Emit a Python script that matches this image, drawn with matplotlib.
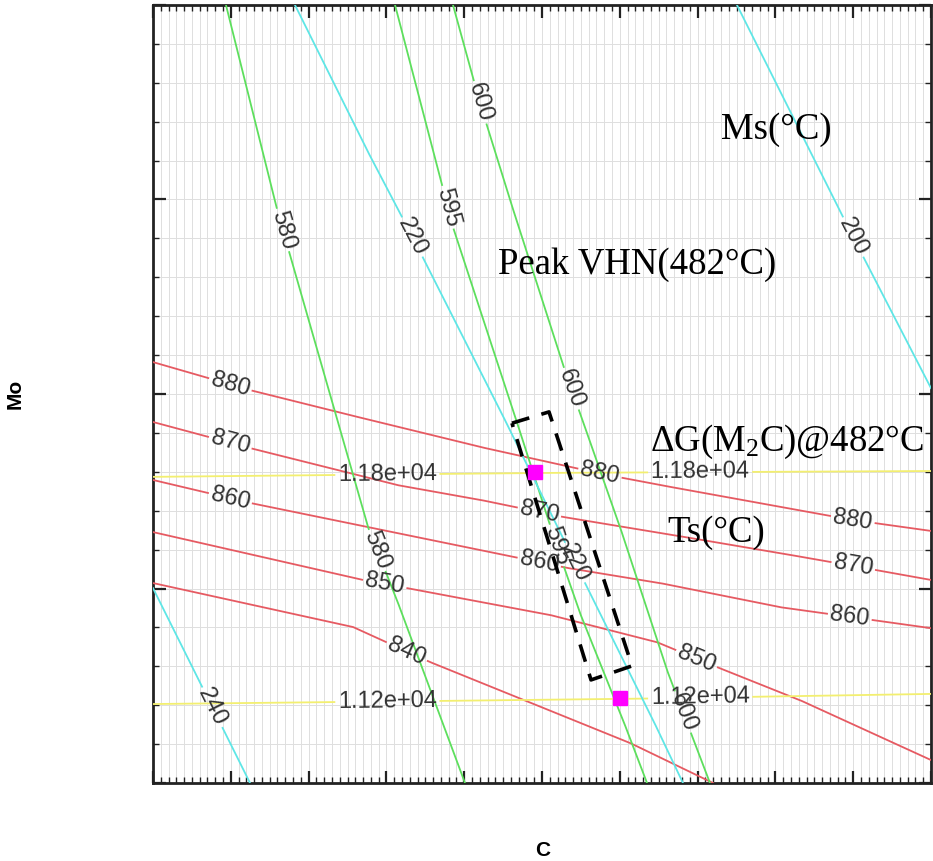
import numpy as np
import matplotlib
matplotlib.use('Agg')
import matplotlib.pyplot as plt

plt.rcParams['mathtext.fontset'] = 'custom'
plt.rcParams['mathtext.rm'] = 'Liberation Serif'
plt.rcParams['mathtext.it'] = 'Liberation Serif:italic'

# contour levels
vhn_levels = [580, 595, 600]
ms_levels = [240, 220, 200]
ts_levels = [840, 850, 860, 870, 880]
dg_levels = [11200, 11800]

# Peak VHN(482C) lines (C, Mo)
vhn_580_c = [0.938, 1.607, 2.339, 2.763, 3.136, 4.010]
vhn_580_mo = [20.0, 14.65, 9.54, 6.58, 4.70, 0.0]
vhn_595_c = [3.111, 3.599, 3.856, 4.627, 5.193, 5.488, 6.041, 6.350]
vhn_595_mo = [20.0, 16.27, 14.29, 9.59, 6.07, 4.37, 1.62, 0.0]
vhn_600_c = [3.856, 4.203, 4.589, 5.321, 5.488, 6.003, 6.607, 7.159]
vhn_600_mo = [20.0, 17.48, 14.99, 10.44, 9.51, 6.58, 2.90, 0.0]

# Ms lines
ms_240_c = [0.0, 1.247]
ms_240_mo = [5.01, 0.0]
ms_220_c = [1.825, 2.751, 3.342, 4.460, 4.884, 5.617, 6.427, 6.812]
ms_220_mo = [20.0, 16.27, 14.01, 9.59, 7.87, 4.88, 1.62, 0.0]
ms_200_c = [7.506, 8.997, 10.0]
ms_200_mo = [20.0, 14.04, 10.15]

# Ts lines
ts_880_c = [0.0, 1.247, 2.365, 4.203, 5.784, 6.517, 8.997, 10.0]
ts_880_mo = [10.82, 10.10, 9.54, 8.64, 7.94, 7.66, 6.76, 6.48]
ts_870_c = [0.0, 1.247, 3.136, 4.203, 5.270, 6.517, 8.059, 8.997, 10.0]
ts_870_mo = [9.28, 8.61, 7.66, 7.28, 6.84, 6.43, 5.91, 5.58, 5.22]
ts_860_c = [0.0, 1.247, 4.203, 5.321, 6.517, 8.059, 8.959, 10.0]
ts_860_mo = [7.79, 7.20, 5.99, 5.53, 5.14, 4.52, 4.27, 3.98]
ts_850_c = [0.0, 2.699, 3.265, 5.103, 6.478, 7.249, 8.316, 10.0]
ts_850_mo = [6.45, 5.22, 5.01, 4.32, 3.62, 2.98, 2.13, 0.59]
ts_840_c = [0.0, 2.571, 3.560, 6.131, 7.198]
ts_840_mo = [5.14, 4.01, 3.11, 1.03, 0.0]

# dG(M2C) lines
dg_118_c = [0.0, 4.910, 10.0]
dg_118_mo = [7.87, 7.97, 8.02]
dg_112_c = [0.0, 6.003, 10.0]
dg_112_mo = [2.03, 2.16, 2.29]

# design points and search window
design_c = [4.910, 6.003]
design_mo = [7.99, 2.19]
box_c = [4.614, 5.090, 6.157, 5.630, 4.614]
box_mo = [9.25, 9.54, 3.01, 2.65, 9.25]

green = '#5ddf5d'
cyan = '#5fe6e6'
red = '#e65a62'
yellow = '#f3ef70'

fig = plt.figure(figsize=(9.33, 8.61), dpi=100)
ax = fig.add_axes([153 / 933, 78 / 861, 778 / 933, 778 / 861])
ax.set_xlim(0, 10)
ax.set_ylim(0, 20)
ax.set_xticks(np.arange(0, 10.01, 1))
ax.set_xticks(np.arange(0, 10.01, 0.1), minor=True)
ax.set_yticks(np.arange(0, 20.01, 5))
ax.set_yticks(np.arange(0, 20.01, 1), minor=True)
ax.tick_params(which='both', direction='in', top=True, right=True,
               labelbottom=False, labelleft=False, color='#222222')
ax.tick_params(which='major', length=9, width=1.6)
ax.tick_params(which='minor', length=4, width=1.0)
ax.grid(True, which='both', color='#dedede', lw=0.7)
ax.set_axisbelow(True)
for sp in ax.spines.values():
    sp.set_linewidth(2)
    sp.set_color('#222222')

renderer = fig.canvas.get_renderer()


def fmt_level(v):
    if v >= 10000:
        return f'{v:.2e}'
    return f'{v:d}'


def contour_line(xs, ys, color, level, spots):
    pts = ax.transData.transform(np.column_stack([xs, ys]))
    seg = np.hypot(*np.diff(pts, axis=0).T)
    s = np.concatenate([[0], np.cumsum(seg)])
    sd = np.linspace(0, s[-1], int(s[-1]) * 2 + 2)
    px = np.interp(sd, s, pts[:, 0])
    py = np.interp(sd, s, pts[:, 1])
    keep = np.ones(len(sd), bool)
    for lx, ly in spots:
        tx, ty = ax.transData.transform((lx, ly))
        i = np.argmin(np.hypot(px - tx, py - ty))
        j0, j1 = max(i - 12, 0), min(i + 12, len(sd) - 1)
        ang = np.degrees(np.arctan2(py[j1] - py[j0], px[j1] - px[j0]))
        if ang > 90:
            ang -= 180
        if ang <= -90:
            ang += 180
        cx, cy = ax.transData.inverted().transform((px[i], py[i]))
        t = ax.text(cx, cy, fmt_level(level), fontsize=17, color='#333333',
                    family='Liberation Sans', ha='center', va='center',
                    rotation_mode='anchor', zorder=5)
        w = t.get_window_extent(renderer).width
        t.set_rotation(ang)
        keep &= np.abs(sd - sd[i]) > w / 2 + 3
    lx, ly = ax.transData.inverted().transform(np.column_stack([px, py])).T
    lx[~keep] = np.nan
    ax.plot(lx, ly, color=color, lw=1.3, zorder=3)


contour_line(ts_880_c, ts_880_mo, red, ts_levels[4], [(0.99, 10.2), (5.75, 8.0), (9.0, 6.8)])
contour_line(ts_870_c, ts_870_mo, red, ts_levels[3], [(0.99, 8.7), (4.97, 7.0), (9.0, 5.6)])
contour_line(ts_860_c, ts_860_mo, red, ts_levels[2], [(0.99, 7.3), (4.97, 5.7), (8.96, 4.3)])
contour_line(ts_850_c, ts_850_mo, red, ts_levels[1], [(2.98, 5.1), (6.99, 3.2)])
contour_line(ts_840_c, ts_840_mo, red, ts_levels[0], [(3.27, 3.4)])

contour_line(dg_118_c, dg_118_mo, yellow, dg_levels[1], [(3.01, 7.9), (7.03, 8.0)])
contour_line(dg_112_c, dg_112_mo, yellow, dg_levels[0], [(3.01, 2.1), (7.03, 2.2)])

contour_line(vhn_580_c, vhn_580_mo, green, vhn_levels[0], [(1.63, 14.2), (2.79, 5.9)])
contour_line(vhn_595_c, vhn_595_mo, green, vhn_levels[1], [(3.79, 14.8), (5.19, 6.1)])
contour_line(vhn_600_c, vhn_600_mo, green, vhn_levels[2], [(4.20, 17.5), (5.33, 10.1), (6.77, 1.8)])

contour_line(ms_240_c, ms_240_mo, cyan, ms_levels[0], [(0.77, 1.95)])
contour_line(ms_220_c, ms_220_mo, cyan, ms_levels[1], [(3.30, 14.0), (5.36, 5.6)])
contour_line(ms_200_c, ms_200_mo, cyan, ms_levels[2], [(9.0, 14.04)])

ax.plot(box_c, box_mo, color='black', lw=2.6, ls=(0, (5, 3.5)), zorder=6)
ax.plot(design_c, design_mo, 's', color='#ff00ff', ms=9.5, mec='#ff00ff', zorder=7)

serif = dict(family='Liberation Serif', fontsize=26.5, color='black',
             ha='center', va='center', zorder=8)
ax.text(8.008, 16.79, 'Ms(°C)', **serif)
ax.text(6.221, 13.32, 'Peak VHN(482°C)', **serif)
ax.text(8.149, 8.77, r'ΔG(M$_2$C)@482°C', **serif)
ax.text(7.237, 6.43, 'Ts(°C)', **serif)

fig.text(543 / 933, 1 - 850 / 861, 'C', fontsize=15, fontweight='bold',
         family='Liberation Sans', ha='center', va='center')
fig.text(15 / 933, 1 - 394 / 861, 'Mo', fontsize=15, fontweight='bold',
         family='Liberation Sans', ha='center', va='center', rotation=90)

fig.savefig('out.png', dpi=100)
